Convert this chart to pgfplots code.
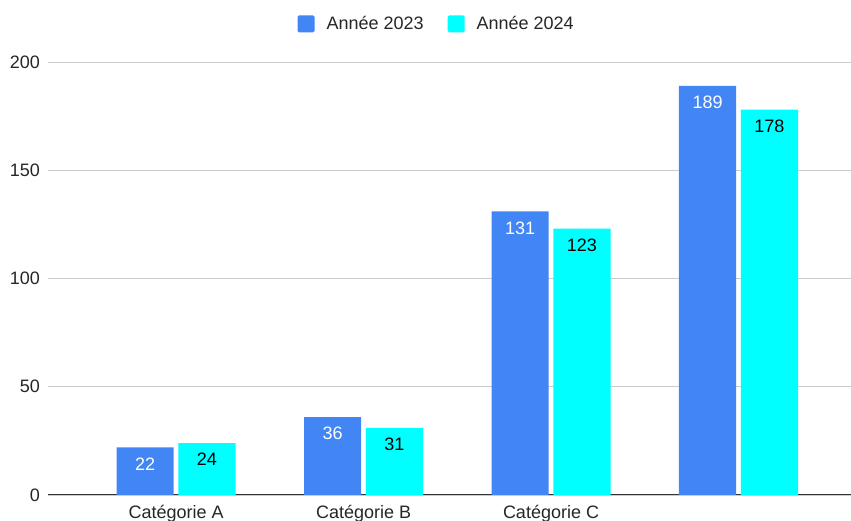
\documentclass[border=0pt]{standalone}
\usepackage{fontspec}
\setmainfont{Liberation Sans}
\usepackage{pgfplots}
\pgfplotsset{compat=1.18}
\definecolor{cblue}{HTML}{4285F4}
\definecolor{ccyan}{HTML}{00FFFF}
\definecolor{gridc}{HTML}{CCCCCC}
\definecolor{axisc}{HTML}{333333}
\begin{document}
\fontsize{18}{21}\selectfont
\begin{tikzpicture}
\path[use as bounding box] (-48pt,-26pt) rectangle (803pt,495pt);
\begin{axis}[
  scale only axis, width=803pt, height=433pt,
  xmin=-0.683, xmax=3.6, ymin=0, ymax=200,
  ybar, bar width=0.305,
  ytick={0,50,100,150,200},
  xtick={0,1,2,3}, xticklabels={Catégorie A,Catégorie B,Catégorie C,{}},
  ymajorgrids, grid style={color=gridc, line width=0.8pt},
  axis x line*=bottom, axis y line*=left,
  y axis line style={draw=none},
  x axis line style={draw=axisc, line width=1pt, -},
  major tick length=0pt,
  tick label style={font=\fontsize{18}{21}\selectfont, text=black!85},
  yticklabel style={inner sep=0pt, xshift=-8pt},
  xticklabel style={inner sep=0pt, yshift=-10pt},
  /pgf/number format/assume math mode=true,
  nodes near coords,
  every node near coord/.append style={anchor=north, yshift=-4pt, font=\fontsize{18}{21}\selectfont},
  legend style={at={(0.484,1.088)}, anchor=center, draw=none, legend columns=2,
    font=\fontsize{18}{21}\selectfont, text=black!85,
    /tikz/every odd column/.append style={column sep=10pt},
    /tikz/every even column/.append style={column sep=22pt}},
  legend image code/.code={\path[#1, rounded corners=1.5pt] (0pt,-8.5pt) rectangle (17pt,8.5pt);},
]
\addplot[fill=cblue, draw=none, bar shift=-0.165, every node near coord/.append style={text=white}]
  coordinates {(0,22) (1,36) (2,131) (3,189)};
\addplot[fill=ccyan, draw=none, bar shift=0.165, every node near coord/.append style={text=black}]
  coordinates {(0,24) (1,31) (2,123) (3,178)};
\legend{Année 2023, Année 2024}
\end{axis}
\end{tikzpicture}
\end{document}
